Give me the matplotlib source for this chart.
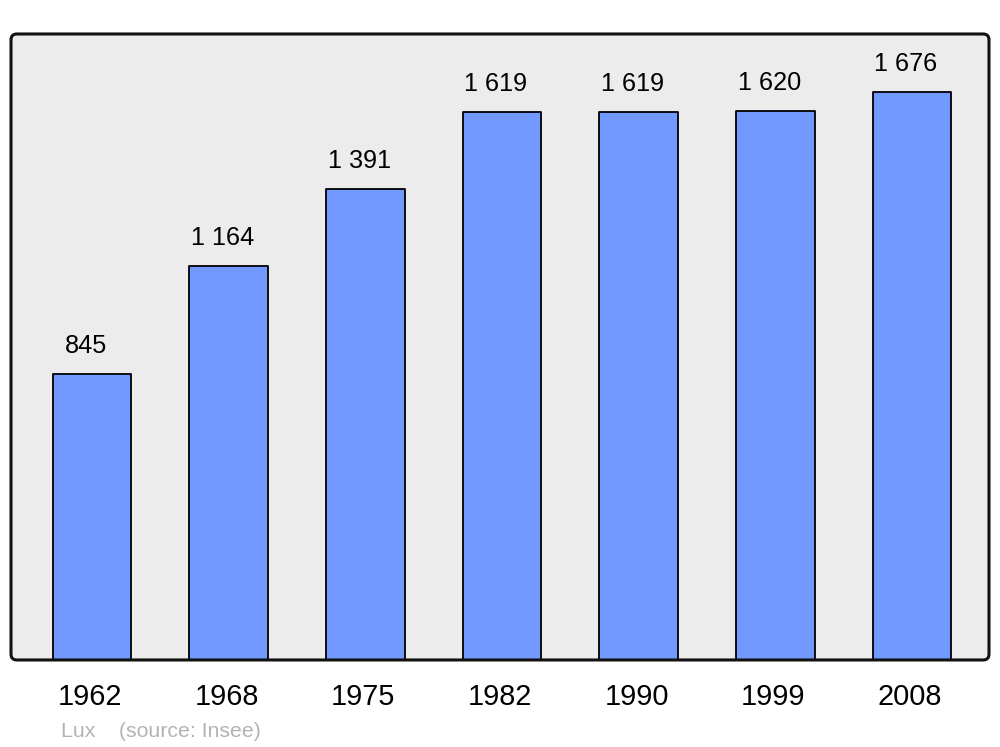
import matplotlib.pyplot as plt
from matplotlib.patches import FancyBboxPatch
from matplotlib.transforms import blended_transform_factory

plt.rcParams['font.family'] = ['Liberation Sans', 'DejaVu Sans']

years = ['1962', '1968', '1975', '1982', '1990', '1999', '2008']
population = [845, 1164, 1391, 1619, 1619, 1620, 1676]
value_labels = ['845', '1 164', '1 391', '1 619', '1 619', '1 620', '1 676']

fig = plt.figure(figsize=(10, 7.47), dpi=100)
ax = fig.add_axes([0.011, 0.1165, 0.978, 0.838])
ax.set_facecolor('#ececec')

x = list(range(len(years)))
bars = ax.bar(x, population, width=0.575, color='#7299ff', edgecolor='black',
              linewidth=1.3, zorder=2)
for b in bars:
    b.set_joinstyle('round')

for xi, v, lab in zip(x, population, value_labels):
    ax.annotate(lab, (xi, v), xytext=(-6, 21), textcoords='offset pixels',
                ha='center', va='baseline', fontsize=18.2, color='black')

ax.set_xlim(-0.593, 6.563)
ax.set_ylim(0, 1848)
ax.set_yticks([])
ax.set_xticks([])

trans = blended_transform_factory(ax.transData, fig.transFigure)
for xi, yr in zip(x, years):
    ax.text(xi - 0.015, 1 - 705 / 747, yr, transform=trans, ha='center',
            va='baseline', fontsize=20.8, color='black')

for s in ax.spines.values():
    s.set_visible(False)
frame = FancyBboxPatch((0, 0), 1, 1, boxstyle='round,pad=0,rounding_size=0.006',
                       transform=ax.transAxes, facecolor='none',
                       edgecolor='#111111', linewidth=2.2, zorder=3,
                       clip_on=False, mutation_aspect=978 / 626)
ax.add_patch(frame)

fig.text(0.061, 1 - 737 / 747, 'Lux    (source: Insee)', fontsize=15.3,
         color='#b3b3b3', ha='left', va='baseline')

fig.savefig('out.png', dpi=100)
